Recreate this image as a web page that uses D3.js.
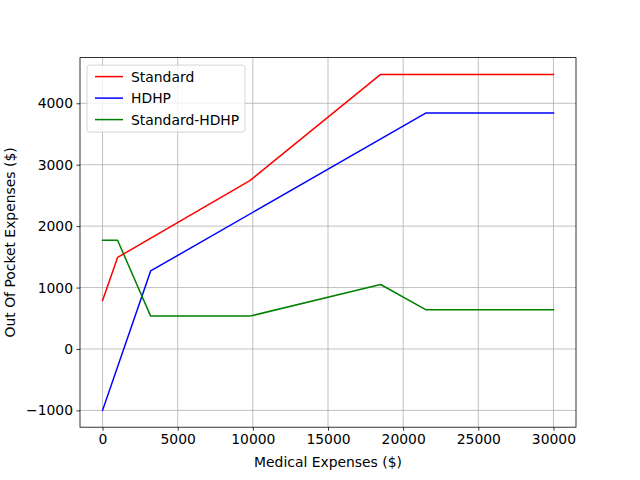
<!DOCTYPE html>
<html><head><meta charset="utf-8">
<script src="https://cdn.jsdelivr.net/npm/d3@7"></script>
<style>body{margin:0;background:#fff}svg{display:block;font-family:"DejaVu Sans",sans-serif}</style>
</head><body><svg id="c" width="640" height="480"></svg>
<script>
const standardX = [0, 1000, 9800, 18500, 30000];
const standardY = [790, 1490, 2740, 4470, 4470];
const hdhpX = [0, 3200, 21500, 30000];
const hdhpY = [-1000, 1270, 3840, 3840];
const diffX = [0, 1000, 3200, 9800, 18500, 21500, 30000];
const diffY = [1770, 1770, 535, 535, 1050, 640, 640];
const xTicks = [0, 5000, 10000, 15000, 20000, 25000, 30000];
const yTicks = [-1000, 0, 1000, 2000, 3000, 4000];
const seriesNames = ["Standard", "HDHP", "Standard-HDHP"];
const seriesColors = ["#ff0000", "#0000ff", "#008000"];

const svg = d3.select("#c");
const L = 80, R = 576, T = 57.6, B = 427.2;
const xmin = 0, xmax = 30000, ymin = -1000, ymax = 4470;
const xm = (xmax - xmin) * 0.05, ym = (ymax - ymin) * 0.05;
const x = d3.scaleLinear().domain([xmin - xm, xmax + xm]).range([L, R]);
const y = d3.scaleLinear().domain([ymin - ym, ymax + ym]).range([B, T]);

// grid
const g = svg.append("g");
g.selectAll(".gx").data(xTicks).join("line")
  .attr("x1", d => x(d)).attr("x2", d => x(d)).attr("y1", T).attr("y2", B)
  .attr("stroke", "#b0b0b0").attr("stroke-width", 0.8);
g.selectAll(".gy").data(yTicks).join("line")
  .attr("y1", d => y(d)).attr("y2", d => y(d)).attr("x1", L).attr("x2", R)
  .attr("stroke", "#b0b0b0").attr("stroke-width", 0.8);

// lines
const series = [
  {xs: standardX, ys: standardY},
  {xs: hdhpX, ys: hdhpY},
  {xs: diffX, ys: diffY}
];
const line = d3.line().x(d => x(d[0])).y(d => y(d[1]));
series.forEach((s, i) => {
  svg.append("path").attr("d", line(s.xs.map((v, j) => [v, s.ys[j]])))
    .attr("fill", "none").attr("stroke", seriesColors[i]).attr("stroke-width", 1.5)
    .attr("stroke-linejoin", "round").attr("stroke-linecap", "square");
});

// axes
const xAxis = d3.axisBottom(x).tickValues(xTicks).tickSize(3.5).tickPadding(3.5).tickFormat(d3.format("d"));
const yAxis = d3.axisLeft(y).tickValues(yTicks).tickSize(3.5).tickPadding(3.5).tickFormat(d => d < 0 ? "\u2212" + Math.abs(d) : d);
const ax = svg.append("g").attr("transform", `translate(0,${B})`).call(xAxis);
const ay = svg.append("g").attr("transform", `translate(${L},0)`).call(yAxis);
[ax, ay].forEach(a => {
  a.select(".domain").remove();
  a.selectAll("line").attr("stroke", "#000").attr("stroke-width", 0.8);
  a.selectAll("text").attr("font-size", 13.9).attr("fill", "#000").attr("font-family", "DejaVu Sans");
});
ay.selectAll("text").attr("dy", "0.32em");
ax.selectAll("text").attr("dy", "0.71em");

svg.append("rect").attr("x", L).attr("y", T).attr("width", R - L).attr("height", B - T)
  .attr("fill", "none").attr("stroke", "#000").attr("stroke-width", 0.8);

svg.append("text").attr("x", (L + R) / 2).attr("y", 467).attr("text-anchor", "middle")
  .attr("font-size", 13.9).text("Medical Expenses ($)");
svg.append("text").attr("transform", `translate(14.5,${(T + B) / 2}) rotate(-90)`)
  .attr("text-anchor", "middle").attr("font-size", 13.9).text("Out Of Pocket Expenses ($)");

// legend
const lg = svg.append("g").attr("transform", `translate(${L + 7},${T + 7.5})`);
lg.append("rect").attr("x", 0).attr("y", 0).attr("width", 158).attr("height", 67).attr("rx", 2.8)
  .attr("fill", "#fff").attr("fill-opacity", 0.8).attr("stroke", "#cccccc").attr("stroke-width", 0.8);
seriesNames.forEach((n, i) => {
  const yy = 11.5 + i * 21.5;
  lg.append("line").attr("x1", 8).attr("x2", 36).attr("y1", yy).attr("y2", yy)
    .attr("stroke", seriesColors[i]).attr("stroke-width", 1.5);
  lg.append("text").attr("x", 44).attr("y", yy).attr("dy", "0.36em").attr("font-size", 13.9).text(n);
});
</script></body></html>
